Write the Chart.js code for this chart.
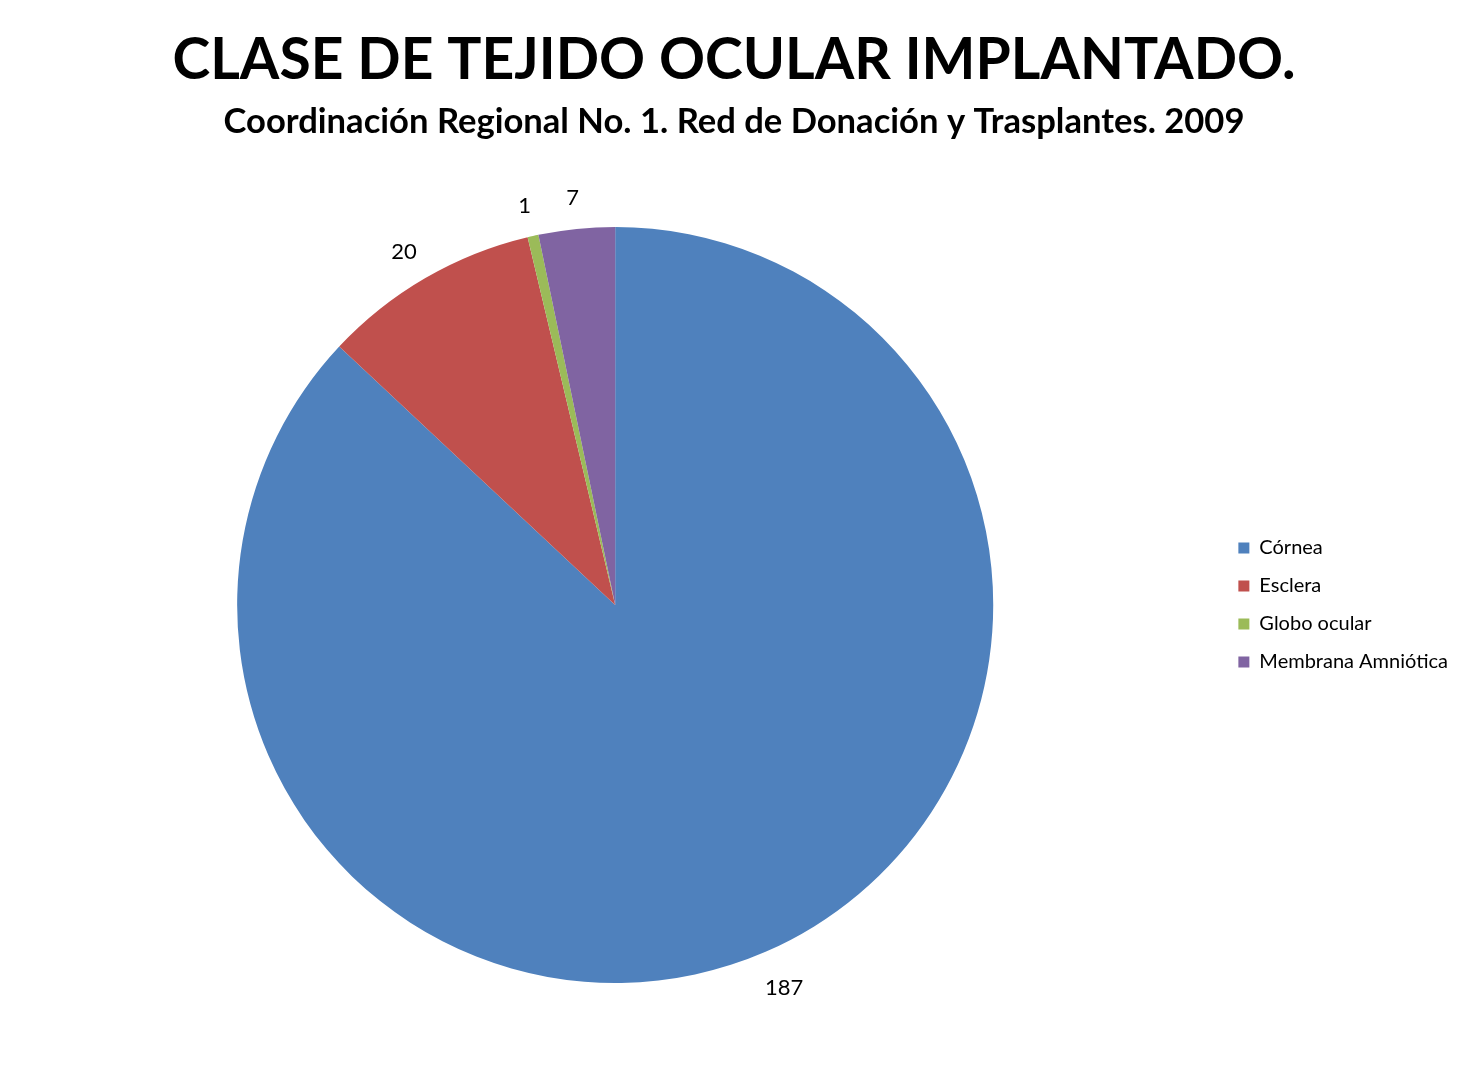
<!DOCTYPE html>
<html>
<head>
<meta charset="utf-8">
<script src="https://cdn.jsdelivr.net/npm/chart.js@4.4.0/dist/chart.umd.min.js"></script>
<style>
  html, body { margin: 0; padding: 0; background: #ffffff; }
  #wrap { width: 1467px; height: 1065px; }
</style>
</head>
<body>
<div id="wrap"><canvas id="c" width="1467" height="1065"></canvas></div>
<script>
const categories = ["Córnea", "Esclera", "Globo ocular", "Membrana Amniótica"];
const values = [187, 20, 1, 7];
const colors = ["#4F81BD", "#C0504D", "#9BBB59", "#8064A2"];
const titleText = "CLASE DE TEJIDO OCULAR IMPLANTADO.";
const subtitleText = "Coordinación Regional No. 1. Red de Donación y Trasplantes. 2009";

const outsideLabels = {
  id: "outsideLabels",
  afterDatasetsDraw(chart) {
    const ctx = chart.ctx;
    const meta = chart.getDatasetMeta(0);
    ctx.save();
    ctx.font = "22px Lato";
    ctx.fillStyle = "#000";
    ctx.textAlign = "center";
    ctx.textBaseline = "middle";
    meta.data.forEach((arc, i) => {
      const p = arc.getProps(["x", "y", "startAngle", "endAngle", "outerRadius"], true);
      const mid = (p.startAngle + p.endAngle) / 2;
      const r = p.outerRadius + 35;
      const tw = ctx.measureText(String(values[i])).width;
      const x = p.x + Math.cos(mid) * r + Math.cos(mid) * tw * 0.3;
      const y = p.y + Math.sin(mid) * r + 4;
      ctx.fillText(String(values[i]), x, y);
    });
    ctx.restore();
  }
};

new Chart(document.getElementById("c"), {
  type: "pie",
  data: {
    labels: categories,
    datasets: [{ data: values, backgroundColor: colors, borderWidth: 0 }]
  },
  options: {
    responsive: false,
    animation: false,
    layout: { padding: { left: 10, right: 9, top: 26, bottom: 82 } },
    plugins: {
      title: {
        display: true,
        text: titleText,
        color: "#000",
        font: { family: "Lato", size: 57, weight: "bold" },
        padding: { top: 0, bottom: 7 }
      },
      subtitle: {
        display: true,
        text: subtitleText,
        color: "#000",
        font: { family: "Lato", size: 34.6, weight: "bold" },
        padding: { top: 0, bottom: 84 }
      },
      legend: {
        position: "right",
        align: "center",
        fullSize: false,
        labels: {
          boxWidth: 11,
          boxHeight: 11,
          padding: 18,
          color: "#000",
          font: { family: "Lato", size: 20 }
        }
      },
      tooltip: { enabled: false }
    }
  },
  plugins: [outsideLabels]
});
</script>
</body>
</html>
